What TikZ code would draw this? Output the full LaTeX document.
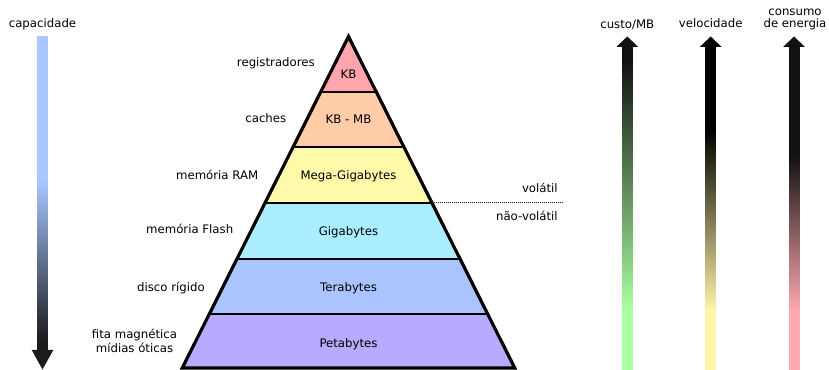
\documentclass[tikz,border=0pt]{standalone}
\usepackage{fontspec}
\setmainfont{DejaVu Sans}
\usetikzlibrary{calc}
\definecolor{cKB}{HTML}{FFA5AD}
\definecolor{cCache}{HTML}{FFCCA8}
\definecolor{cRAM}{HTML}{FFFAAA}
\definecolor{cFlash}{HTML}{AAEEFF}
\definecolor{cTera}{HTML}{AAC4FF}
\definecolor{cPeta}{HTML}{B8AAFF}
\definecolor{capblue}{HTML}{A8C8FF}
\definecolor{capdark}{HTML}{1C1C1C}
\definecolor{costgreen}{HTML}{AAFFA0}
\definecolor{speedyellow}{HTML}{FFF5A8}
\definecolor{energypink}{HTML}{FFA8B0}
\definecolor{nearblack}{HTML}{111111}
% vertical gradient made of thin strips: x1, x2, y-top, y-bottom, top colour, bottom colour
\newcommand{\gradstrip}[6]{%
  \pgfmathtruncatemacro{\nstrips}{#4-#3}%
  \foreach \k in {0,...,\nstrips}{%
    \pgfmathtruncatemacro{\pcnt}{round(\k/\nstrips*100)}%
    \fill[#6!\pcnt!#5] (#1,#3+\k-0.15) rectangle (#2,#3+\k+1.15);
  }%
}
% upward arrow bar: centre x, top colour, end of solid top, start of solid bottom, bottom colour
\newcommand{\gradbar}[5]{%
  \fill[#2] (#1-11,47) -- (#1+11,47) -- (#1,36.5) -- cycle;
  \fill[#2] (#1-5.5,46.5) rectangle (#1+5.5,#3+0.5);
  \gradstrip{#1-5.5}{#1+5.5}{#3}{#4}{#2}{#5}
  \fill[#5] (#1-5.5,#4) rectangle (#1+5.5,370);
}
\begin{document}
\begin{tikzpicture}[x=0.75pt,y=-0.75pt,
  lbl/.style={font=\fontsize{8.8}{10}\selectfont, inner sep=0pt, anchor=base},
  lble/.style={lbl, anchor=base east},
  sep/.style={line width=1.5pt},
  outline/.style={line width=2.4pt, line join=miter}]
\useasboundingbox (0,0) rectangle (829,370);
% pyramid
\coordinate (A) at (348.5,36.5);
\coordinate (BL) at (182.25,368);
\coordinate (BR) at (514.75,368);
\foreach \t/\n in {0.1665/1,0.3333/2,0.5014/3,0.6703/4,0.838/5}{
  \coordinate (L\n) at ($(A)!\t!(BL)$);
  \coordinate (R\n) at ($(A)!\t!(BR)$);
}
\fill[cKB] (A) -- (R1) -- (L1) -- cycle;
\fill[cCache] (L1) -- (R1) -- (R2) -- (L2) -- cycle;
\fill[cRAM] (L2) -- (R2) -- (R3) -- (L3) -- cycle;
\fill[cFlash] (L3) -- (R3) -- (R4) -- (L4) -- cycle;
\fill[cTera] (L4) -- (R4) -- (R5) -- (L5) -- cycle;
\fill[cPeta] (L5) -- (R5) -- (BR) -- (BL) -- cycle;
\foreach \n in {1,...,5} \draw[sep] (L\n) -- (R\n);
\draw[outline] (A) -- (BR) -- (BL) -- cycle;
% layer texts
\node[lbl] (tKB) at (348.5,78.3) {KB};
\node[lbl] (tCache) at (348.5,124) {KB - MB};
\node[lbl] (tRAM) at (348.5,179.7) {Mega-Gigabytes};
\node[lbl] (tFlash) at (348.5,236) {Gigabytes};
\node[lbl] (tTera) at (348.5,291.3) {Terabytes};
\node[lbl] (tPeta) at (348.5,347.3) {Petabytes};
% left labels
\node[lble] (lReg) at (315,66.3) {registradores};
\node[lble] (lCache) at (286.5,123) {caches};
\node[lble] (lRAM) at (258.5,179.7) {memória RAM};
\node[lble] (lFlash) at (233.5,234) {memória Flash};
\node[lble] (lDisk) at (205,291.3) {disco rígido};
\node[lbl] (lTape) at (134.5,339) {fita magnética};
\node[lbl] (lOpt) at (134.5,352.3) {mídias óticas};
% volatile divider
\coordinate (volend) at (563,202.7);
\draw[dash pattern=on 0.75pt off 0.75pt, line width=0.75pt, black!80] (R3) -- (volend);
\node[lble] (vol) at (558,193) {volátil};
\node[lble] (nvol) at (558,221) {não-volátil};
% capacity arrow
\fill[capblue] (36.7,36) rectangle (48.3,180.5);
\gradstrip{36.7}{48.3}{180}{340}{capblue}{capdark}
\fill[capdark] (36.7,340) rectangle (48.3,350.5);
\fill[capdark] (31.7,350) -- (53.3,350) -- (42.5,369.5) -- cycle;
\node[lbl] (cap) at (42.5,28) {capacidade};
% right arrows
\gradbar{627.3}{nearblack}{60}{310}{costgreen}
\gradbar{710.7}{black}{130}{310}{speedyellow}
\gradbar{794}{nearblack}{155}{310}{energypink}
\node[lbl] (cost) at (627.3,29) {custo/MB};
\node[lbl] (speed) at (710.7,27.3) {velocidade};
\node[lbl] (energyA) at (795,15.5) {consumo};
\node[lbl] (energyB) at (795,28) {de energia};
\end{tikzpicture}
\end{document}
